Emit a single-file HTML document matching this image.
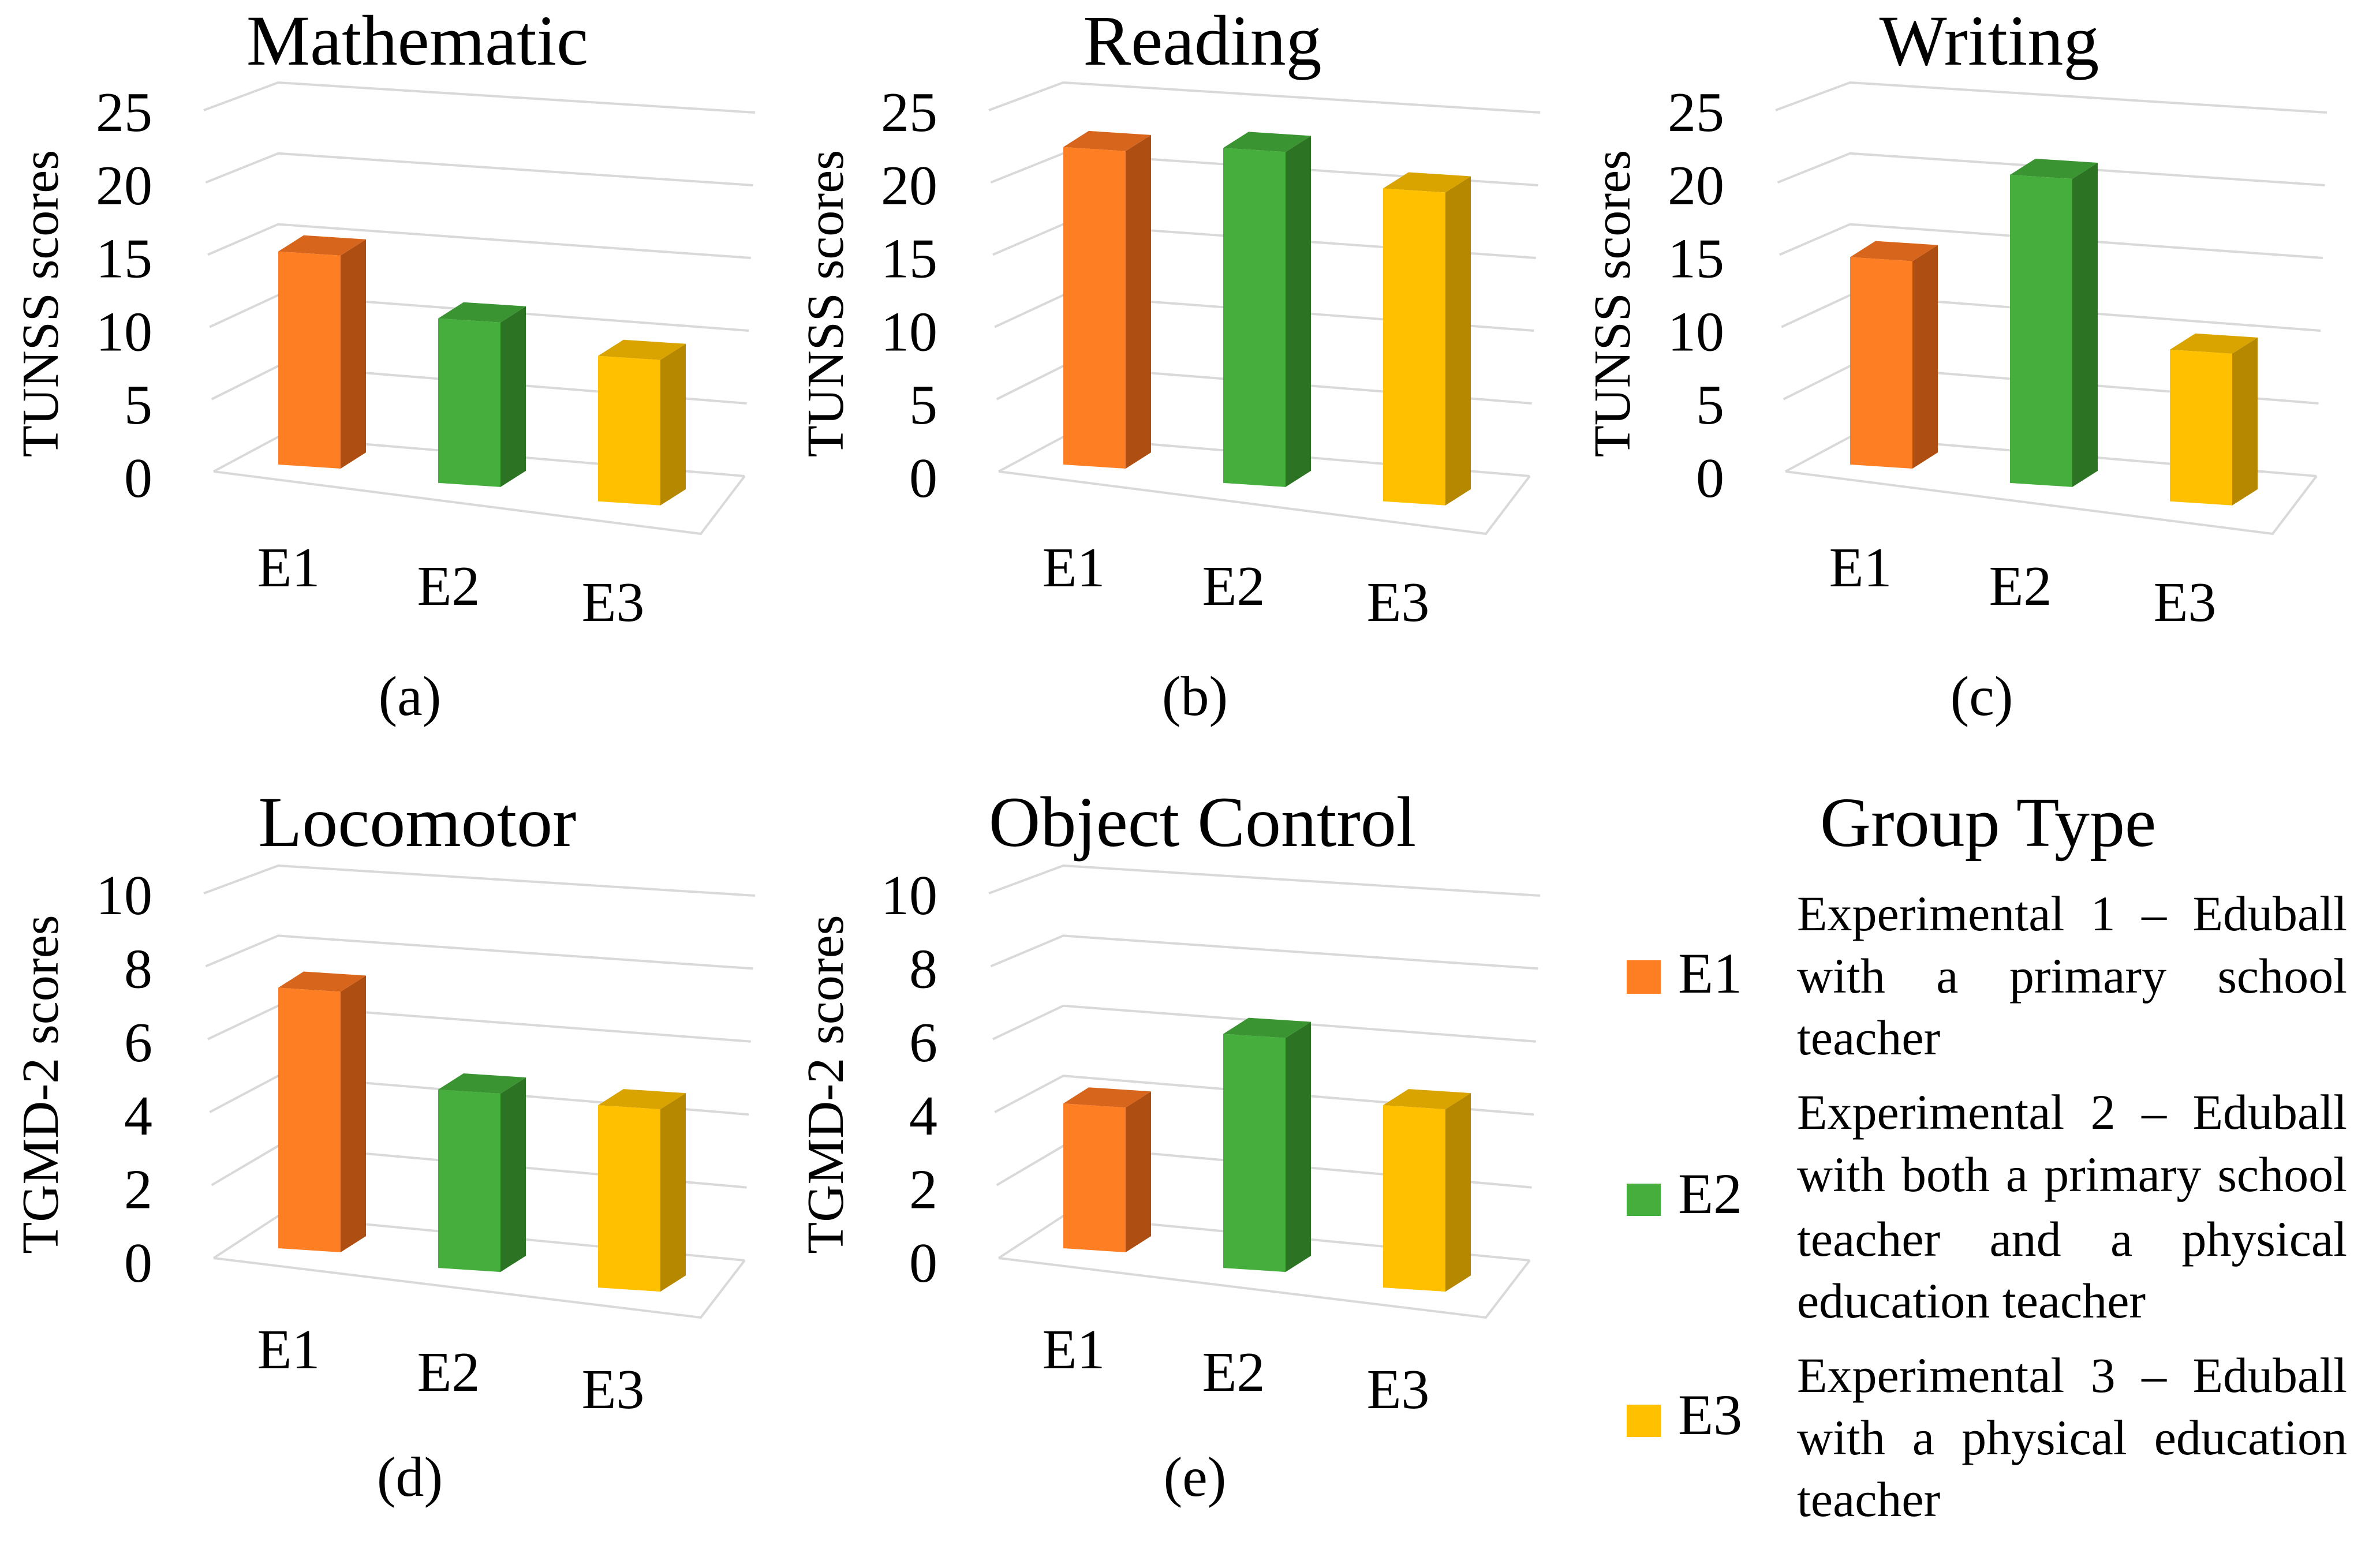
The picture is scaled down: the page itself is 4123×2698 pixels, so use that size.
<!DOCTYPE html>
<html><head><meta charset="utf-8"><style>
html,body{margin:0;padding:0;background:#fff;}
svg{display:block;}
text{font-family:"Liberation Serif",serif;fill:#000;}
</style></head><body>
<svg id="fig" width="4123" height="2698" viewBox="0 0 4123 2698" xmlns="http://www.w3.org/2000/svg">
<g id="legend">
<text x="3444" y="1466" font-size="122" text-anchor="middle">Group Type</text>
<rect x="2818" y="1664" width="59" height="58" fill="#fd7e23"/>
<text x="2907" y="1720" font-size="100">E1</text>
<rect x="2818" y="2051" width="59" height="56" fill="#45ae3c"/>
<text x="2907" y="2102" font-size="100">E2</text>
<rect x="2818" y="2434" width="59" height="56" fill="#ffc000"/>
<text x="2907" y="2485" font-size="100">E3</text>
</g>
</svg>
<script>
const categories = ['E1','E2','E3'];
const mathValues = [15.1, 11.0, 9.2];
const readingValues = [22.5, 22.4, 19.8];
const writingValues = [14.7, 20.6, 9.6];
const locomotorValues = [7.2, 4.65, 4.5];
const objectValues = [4.0, 6.1, 4.5];
const tunssTicks = [0, 5, 10, 15, 20, 25];
const tgmdTicks = [0, 2, 4, 6, 8, 10];

const NS = 'http://www.w3.org/2000/svg';
const svg = document.getElementById('fig');
const front = ['#fd7e23','#45ae3c','#ffc000'];
const topc = ['#d8651c','#3a9432','#d9a300'];
const side = ['#ae4e12','#2c7424','#b58800'];
const persp = [1, 1.06, 1.12];

const geoTop = {bl0:757, blT:143, brx0:1290, brxT:1308, bry0:825, bryT:195, flx0:370, flxT:353, fly0:817, flyT:191, frx:1214, fry:925, t0:829, tT:195, base0:805, slope:0.115, k:24.45, titleY:112, yTitleY:526, catY:[984,1016,1044], subY:1207};
const geoBot = {bl0:2107, blT:1500, brx0:1290, brxT:1308, bry0:2184, bryT:1552, flx0:370, flxT:353, fly0:2180, flyT:1548, frx:1214, fry:2283, t0:2189, tT:1552, base0:2163, slope:0.123, k:62.7, titleY:1466, yTitleY:1879, catY:[2339,2378,2408], subY:2560};

function lerp(a,b,t){return a+(b-a)*t;}
function mk(tag, parent){const e=document.createElementNS(NS,tag);parent.appendChild(e);return e;}

function panel(ox, geo, values, ticks, title, yTitle, sub, name){
  const g = mk('g', svg);
  
  
  g.setAttribute('transform', 'translate(' + ox + ',0)');
  const max = ticks[ticks.length-1];
  ticks.forEach(function(v){
    const t = v/max;
    const p = mk('polyline', g);
    
    
    const fl = [lerp(geo.flx0,geo.flxT,t), lerp(geo.fly0,geo.flyT,t)];
    const bl = [482, lerp(geo.bl0,geo.blT,t)];
    const br = [lerp(geo.brx0,geo.brxT,t), lerp(geo.bry0,geo.bryT,t)];
    p.setAttribute('points', fl.join(',')+' '+bl.join(',')+' '+br.join(','));
    p.setAttribute('fill','none'); p.setAttribute('stroke','#d9d9d9'); p.setAttribute('stroke-width','4');
    const tx = mk('text', g);
    
    
    tx.setAttribute('x', 264); tx.setAttribute('y', lerp(geo.t0,geo.tT,t)+32);
    tx.setAttribute('font-size','98'); tx.setAttribute('text-anchor','end');
    tx.textContent = v;
  });
  const fl = mk('polyline', g);
  
  
  fl.setAttribute('points', geo.flx0+','+geo.fly0+' '+geo.frx+','+geo.fry+' '+geo.brx0+','+geo.bry0);
  fl.setAttribute('fill','none'); fl.setAttribute('stroke','#d9d9d9'); fl.setAttribute('stroke-width','4');
  const w = 108, dx = 44, dy = -28;
  values.forEach(function(v,i){
    const x0 = 482 + i*277;
    const yb = geo.base0 + geo.slope*(x0-482);
    const yb2 = yb + 7;
    const h = v*geo.k*persp[i];
    const bg = mk('g', g);
    
    
    function poly(pts, fill, nm){
      const p = mk('polygon', bg);
      
      
      p.setAttribute('points', pts.map(function(q){return q.join(',');}).join(' '));
      p.setAttribute('fill', fill);
    }
    poly([[x0+w,yb2-h],[x0+w+dx,yb2-h+dy],[x0+w+dx,yb2+dy],[x0+w,yb2]], side[i], 'bar-side');
    poly([[x0,yb-h],[x0+w,yb2-h],[x0+w+dx,yb2-h+dy],[x0+dx,yb-h+dy]], topc[i], 'bar-top');
    poly([[x0,yb-h],[x0+w,yb2-h],[x0+w,yb2],[x0,yb]], front[i], 'bar-front');
    const c = mk('text', g);
    
    
    c.setAttribute('x', [500,777,1062][i]); c.setAttribute('y', geo.catY[i]+32);
    c.setAttribute('font-size','98'); c.setAttribute('text-anchor','middle');
    c.textContent = categories[i];
  });
  const tt = mk('text', g);
  
  
  tt.setAttribute('x', 723); tt.setAttribute('y', geo.titleY);
  tt.setAttribute('font-size','124'); tt.setAttribute('text-anchor','middle');
  tt.textContent = title;
  const yt = mk('text', g);
  
  
  yt.setAttribute('transform', 'translate(100,' + geo.yTitleY + ') rotate(-90)');
  yt.setAttribute('font-size','90'); yt.setAttribute('text-anchor','middle');
  yt.textContent = yTitle;
  const sl = mk('text', g);
  
  
  sl.setAttribute('x', 710); sl.setAttribute('y', geo.subY+32);
  sl.setAttribute('font-size','98'); sl.setAttribute('text-anchor','middle');
  sl.textContent = sub;
}
panel(0, geoTop, mathValues, tunssTicks, 'Mathematic', 'TUNSS scores', '(a)', 'mathematic');
panel(1360, geoTop, readingValues, tunssTicks, 'Reading', 'TUNSS scores', '(b)', 'reading');
panel(2723, geoTop, writingValues, tunssTicks, 'Writing', 'TUNSS scores', '(c)', 'writing');
panel(0, geoBot, locomotorValues, tgmdTicks, 'Locomotor', 'TGMD-2 scores', '(d)', 'locomotor');
panel(1360, geoBot, objectValues, tgmdTicks, 'Object Control', 'TGMD-2 scores', '(e)', 'object-control');

const legendLines = [
  ['Experimental 1 – Eduball', 1612, true, 'e1'],
  ['with a primary school', 1720, true, 'e1'],
  ['teacher', 1827, false, 'e1'],
  ['Experimental 2 – Eduball', 1956, true, 'e2'],
  ['with both a primary school', 2064, true, 'e2'],
  ['teacher and a physical', 2176, true, 'e2'],
  ['education teacher', 2283, false, 'e2'],
  ['Experimental 3 – Eduball', 2412, true, 'e3'],
  ['with a physical education', 2520, true, 'e3'],
  ['teacher', 2627, false, 'e3']
];
const legend = document.getElementById('legend');
const LX = 3113, LW = 953, LFS = 86;
legendLines.forEach(function(L){
  const words = L[0].split(' ');
  const t = mk('text', legend);
  
  
  t.setAttribute('y', L[1]);
  t.setAttribute('font-size', LFS);
  if (!L[2]) { t.setAttribute('x', LX); t.textContent = L[0]; return; }
  const spans = words.map(function(wd){
    const s = mk('tspan', t); s.textContent = wd; return s;
  });
  let total = 0;
  const ws = spans.map(function(s){ const l = s.getComputedTextLength(); total += l; return l; });
  const gap = (LW - total) / (words.length - 1);
  let x = LX;
  spans.forEach(function(s, i){ s.setAttribute('x', x); x += ws[i] + gap; });
});
</script>
</body></html>
